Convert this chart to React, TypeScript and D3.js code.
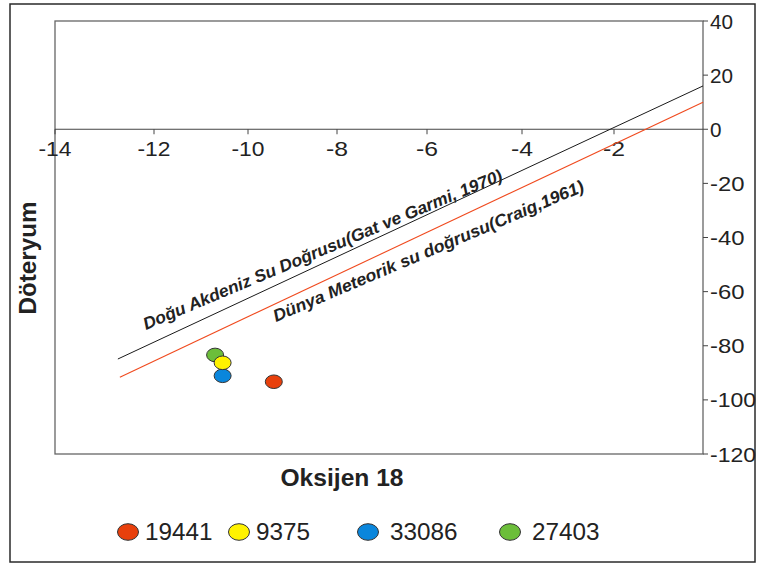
import React from "react";
import * as d3 from "d3";

// ---- data ----
const xTicks = [-14, -12, -10, -8, -6, -4, -2];
const yTicks = [40, 20, 0, -20, -40, -60, -80, -100, -120];
const sampleNames = ["19441", "9375", "33086", "27403"];
const sampleO18 = [-9.42, -10.54, -10.54, -10.7];
const sampleD = [-93.3, -86.3, -91.1, -83.4];
const sampleColors = ["#E8400C", "#FFF200", "#0A86DC", "#6CBE3A"];
const emlO18 = [-12.73, 0];
const emlD = [-84.9, 16.0];
const gmwlO18 = [-12.69, 0];
const gmwlD = [-91.6, 10.0];
const emlLabel = "Doğu Akdeniz Su Doğrusu(Gat ve Garmi, 1970)";
const gmwlLabel = "Dünya Meteorik su doğrusu(Craig,1961)";

const W = 757;
const H = 565;
const FONT = "'Liberation Sans', Arial, sans-serif";

export default function App() {
  // x axis in the source picture has slightly uneven tick spacing
  const x = d3
    .scaleLinear()
    .domain([-14, -12, -10, -8, -6, -4, -2, 0])
    .range([55, 154, 248, 337, 427, 522, 614, 703]);
  const y = d3.scaleLinear().domain([40, -120]).range([21, 454]);

  const line = d3
    .line<[number, number]>()
    .x((d) => x(d[0]))
    .y((d) => y(d[1]));

  const eml: [number, number][] = emlO18.map((v, i) => [v, emlD[i]]);
  const gmwl: [number, number][] = gmwlO18.map((v, i) => [v, gmwlD[i]]);

  const legendX = [128, 239, 368, 510];

  return (
    <svg
      width={W}
      height={H}
      style={{ position: "absolute", left: 0, top: 0, background: "#fff" }}
      fontFamily={FONT}
    >
      <rect x={0} y={0} width={W} height={H} fill="#fff" />
      {/* outer border */}
      <rect x={10} y={4} width={745} height={558} fill="none" stroke="#2a2a2a" strokeWidth={1.5} />
      {/* plot frame */}
      <rect x={x(-14)} y={y(40)} width={x(0) - x(-14)} height={y(-120) - y(40)} fill="none" stroke="#666" strokeWidth={1.3} />
      {/* zero line (x axis) */}
      <line x1={x(-14)} x2={x(0)} y1={y(0)} y2={y(0)} stroke="#444" strokeWidth={1} />
      {xTicks.map((t) => (
        <g key={"xt" + t}>
          <line x1={x(t)} x2={x(t)} y1={y(0)} y2={y(0) + 5} stroke="#444" />
          <text
            x={x(t)}
            y={y(0) + 27}
            textAnchor="middle"
            fontSize={21}
            fill="#222"
            textLength={String(t).length === 3 ? 33 : 22}
            lengthAdjust="spacingAndGlyphs"
          >
            {t}
          </text>
        </g>
      ))}
      {/* right y axis */}
      {yTicks.map((t) => (
        <g key={"yt" + t}>
          <line x1={x(0)} x2={x(0) + 5} y1={y(t)} y2={y(t)} stroke="#444" />
          <text
            x={x(0) + 7}
            y={y(t) + 7.5}
            fontSize={21}
            fill="#222"
            textLength={String(t).length * 11.5}
            lengthAdjust="spacingAndGlyphs"
          >
            {t}
          </text>
        </g>
      ))}

      {/* reference lines */}
      <path d={line(eml) || ""} fill="none" stroke="#1a1a1a" strokeWidth={1} />
      <path d={line(gmwl) || ""} fill="none" stroke="#F04A1E" strokeWidth={1.1} />
      <text
        transform="translate(146,330) rotate(-22.8)"
        fontSize={17}
        fontWeight="bold"
        fontStyle="italic"
        fill="#222"
        textLength={388}
        lengthAdjust="spacingAndGlyphs"
      >
        {emlLabel}
      </text>
      <text
        transform="translate(276,322) rotate(-23)"
        fontSize={17}
        fontWeight="bold"
        fontStyle="italic"
        fill="#222"
        textLength={336}
        lengthAdjust="spacingAndGlyphs"
      >
        {gmwlLabel}
      </text>

      {/* samples */}
      {sampleNames.map((n, i) => ({ n, i })).reverse().map(({ n, i }) => (
        <ellipse
          key={"s" + n}
          cx={x(sampleO18[i])}
          cy={y(sampleD[i])}
          rx={8.5}
          ry={6.8}
          fill={sampleColors[i]}
          stroke="#333"
          strokeWidth={1}
        />
      ))}

      {/* axis titles */}
      <text
        x={342}
        y={486}
        textAnchor="middle"
        fontSize={23}
        fontWeight="bold"
        fill="#222"
        textLength={123}
        lengthAdjust="spacingAndGlyphs"
      >
        Oksijen 18
      </text>
      <text
        transform="translate(36,258) rotate(-90)"
        textAnchor="middle"
        fontSize={24}
        fontWeight="bold"
        fill="#222"
        textLength={113}
        lengthAdjust="spacingAndGlyphs"
      >
        Döteryum
      </text>

      {/* legend */}
      {sampleNames.map((n, i) => (
        <g key={"lg" + n}>
          <ellipse cx={legendX[i]} cy={532} rx={10.5} ry={8.3} fill={sampleColors[i]} stroke="#333" strokeWidth={1} />
          <text
            x={legendX[i] + (i === 0 || i === 1 ? 17 : 22)}
            y={540}
            fontSize={24}
            fill="#222"
            textLength={n.length * 13.5}
            lengthAdjust="spacingAndGlyphs"
          >
            {n}
          </text>
        </g>
      ))}
    </svg>
  );
}
